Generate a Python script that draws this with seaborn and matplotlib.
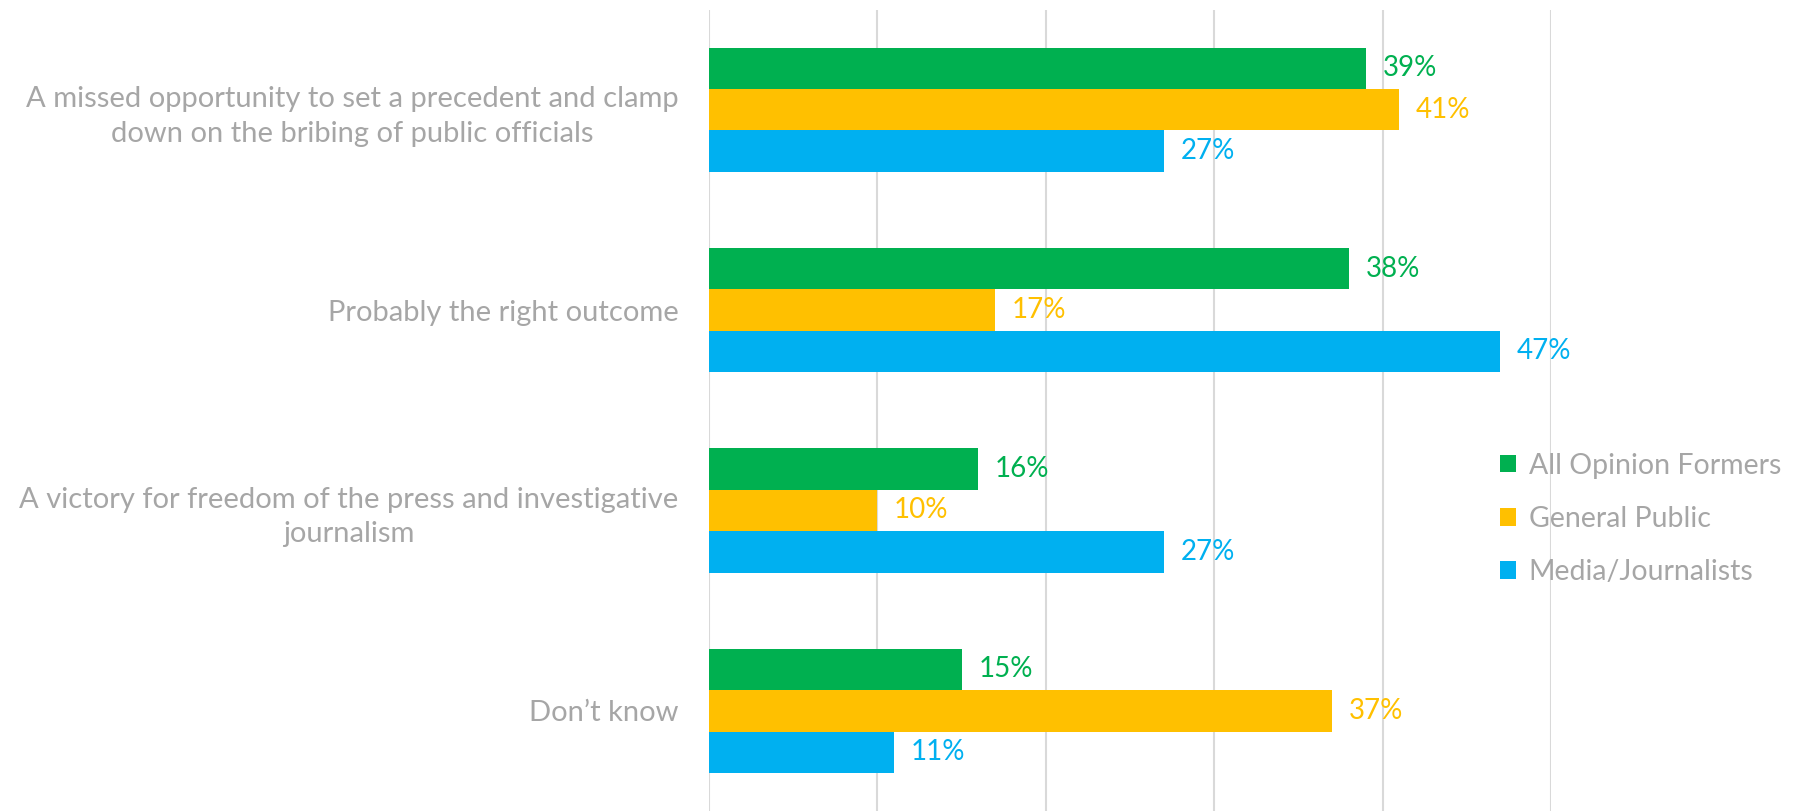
import numpy as np
import pandas as pd
import matplotlib
matplotlib.use('Agg')
import matplotlib.pyplot as plt
import seaborn as sns

categories = ['A missed opportunity to set a precedent and clamp\ndown on the bribing of public officials',
              'Probably the right outcome',
              'A victory for freedom of the press and investigative\njournalism',
              'Don\u2019t know']
series = ['All Opinion Formers', 'General Public', 'Media/Journalists']
opinion_formers = [39, 38, 16, 15]
general_public = [41, 17, 10, 37]
media = [27, 47, 27, 11]
colors = ['#00B050', '#FFC000', '#00B0F0']
grey = '#A6A6A6'

df = pd.DataFrame({
    'category': categories * 3,
    'group': np.repeat(series, len(categories)),
    'value': opinion_formers + general_public + media,
})

sns.set_style('white')
plt.rcParams['font.family'] = ['Lato', 'DejaVu Sans']

fig = plt.figure(figsize=(17.93, 8.11), dpi=100)
ax = fig.add_axes([709 / 1793, 0.0, (1551 - 709) / 1793, 1 - 9.5 / 811])

sns.barplot(data=df, y='category', x='value', hue='group', orient='h',
            palette=colors, width=0.62, linewidth=0, saturation=1,
            ax=ax, zorder=2)

ax.set_xlim(0, 50)
ax.set_xticks(np.arange(0, 51, 10))
ax.set_xticklabels([])
ax.xaxis.grid(True, color='#D9D9D9', linewidth=1.5, zorder=0)
ax.set_axisbelow(True)
ax.tick_params(axis='both', length=0)
ax.tick_params(axis='y', pad=22, labelsize=21, labelcolor=grey)
for lbl in ax.get_yticklabels():
    lbl.set_multialignment('center')
    lbl.set_linespacing(1.4)
ax.set_xlabel('')
ax.set_ylabel('')
sns.despine(ax=ax, left=True, bottom=True)

# value labels
for cont, c in zip(ax.containers, colors):
    ax.bar_label(cont, labels=['{:.0f}%'.format(v) for v in cont.datavalues],
                 padding=12, color=c, fontsize=20)

handles, labels = ax.get_legend_handles_labels()
leg = ax.legend(handles, labels, loc='center left', frameon=False,
                bbox_to_anchor=(1486 / 1793, 1 - 519 / 811),
                bbox_transform=fig.transFigure, fontsize=20.5,
                handlelength=0.55, handleheight=0.55, handletextpad=0.45,
                labelspacing=0.95, borderpad=0)
for t in leg.get_texts():
    t.set_color(grey)

fig.savefig('out.png', dpi=100)
